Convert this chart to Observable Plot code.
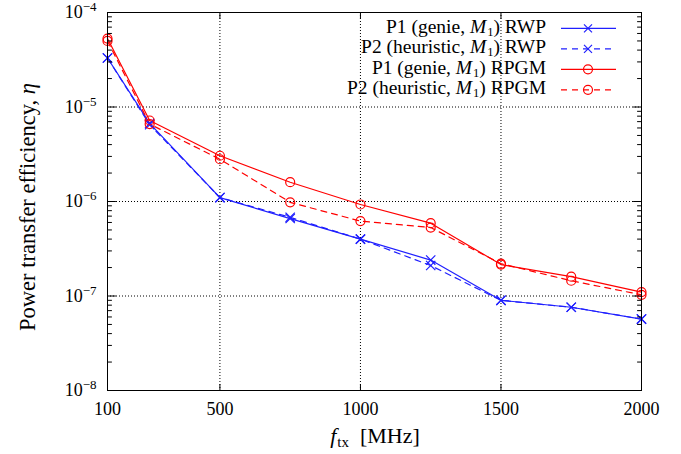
<!DOCTYPE html>
<html><head><meta charset="utf-8">
<script src="https://cdn.jsdelivr.net/npm/d3@7"></script>
<script src="https://cdn.jsdelivr.net/npm/@observablehq/plot@0.6"></script>
<style>body{margin:0;background:#fff} svg text{font-family:"Liberation Serif",serif}</style>
</head><body><div id="chart"></div>
<script>
const freqs = [100, 250, 500, 750, 1000, 1250, 1500, 1750, 2000];
const p1RWP  = [3.3e-5, 6.7e-6, 1.1e-6, 6.6e-7, 4.0e-7, 2.4e-7, 9.0e-8, 7.6e-8, 5.7e-8];
const p2RWP  = [3.3e-5, 6.5e-6, 1.1e-6, 6.8e-7, 4.0e-7, 2.1e-7, 9.0e-8, 7.6e-8, 5.7e-8];
const p1RPGM = [5.3e-5, 7.2e-6, 3.05e-6, 1.6e-6, 9.3e-7, 5.9e-7, 2.15e-7, 1.6e-7, 1.1e-7];
const p2RPGM = [5.0e-5, 6.6e-6, 2.8e-6, 9.8e-7, 6.2e-7, 5.3e-7, 2.2e-7, 1.45e-7, 1.03e-7];
const seriesNames = [
  ["P1 (genie, ", ") RWP"],
  ["P2 (heuristic, ", ") RWP"],
  ["P1 (genie, ", ") RPGM"],
  ["P2 (heuristic, ", ") RPGM"]
];
const xTicks = [100, 500, 1000, 1500, 2000];
const xGrid = [500, 1000, 1500];
const yDecades = [1e-8, 1e-7, 1e-6, 1e-5, 1e-4];
const yGrid = [1e-7, 1e-6, 1e-5];
const yExponents = ["−8", "−7", "−6", "−5", "−4"];

const BLUE = "#2020ff", RED = "#ff0000";
const FONT = "Liberation Serif, serif";
const series = [
  {values: p1RWP, color: BLUE, dash: null, symbol: "times"},
  {values: p2RWP, color: BLUE, dash: "6,5", symbol: "times"},
  {values: p1RPGM, color: RED, dash: null, symbol: "circle"},
  {values: p2RPGM, color: RED, dash: "6,5", symbol: "circle"}
].map((s, i) => ({...s, name: seriesNames[i]}));

const minorY = [];
for (const d of yDecades.slice(0, -1)) for (let m = 2; m <= 9; m++) minorY.push(d * m);

const tickShape = {draw(c, l) { c.moveTo(0, 0); c.lineTo(0, -l); }};
const tk = (data, opts) => Plot.vector(data, {anchor: "start", shape: tickShape, stroke: "#000", strokeWidth: 1, ...opts});

const lineMarks = [], dotMarks = [];
series.forEach(s => {
  const rows = freqs.map((f, i) => ({f, v: s.values[i]}));
  lineMarks.push(Plot.line(rows, {x: "f", y: "v", stroke: s.color, strokeWidth: 1.2, strokeDasharray: s.dash}));
  dotMarks.push(Plot.dot(rows, {x: "f", y: "v", stroke: s.color, strokeWidth: 1.2, symbol: s.symbol, r: s.symbol === "circle" ? 4.5 : 4.3, fill: "none"}));
});

const chart = Plot.plot({
  width: 681, height: 454,
  marginLeft: 107, marginRight: 40, marginTop: 12, marginBottom: 64,
  style: {fontFamily: FONT, fontSize: "18px", background: "#fff", color: "#000"},
  x: {domain: [100, 2000]},
  y: {type: "log", domain: [1e-8, 1e-4]},
  marks: [
    Plot.gridX(xGrid, {stroke: "#000", strokeOpacity: 1, strokeDasharray: "1,2", strokeWidth: 1}),
    Plot.gridY(yGrid, {stroke: "#000", strokeOpacity: 1, strokeDasharray: "1,2", strokeWidth: 1}),
    ...lineMarks, ...dotMarks,
    tk(xGrid, {x: d => d, frameAnchor: "bottom", rotate: 0, length: 6}),
    tk(xGrid, {x: d => d, frameAnchor: "top", rotate: 180, length: 6}),
    tk(yDecades, {y: d => d, frameAnchor: "left", rotate: 90, length: 8}),
    tk(yDecades, {y: d => d, frameAnchor: "right", rotate: -90, length: 8}),
    tk(minorY, {y: d => d, frameAnchor: "left", rotate: 90, length: 4}),
    tk(minorY, {y: d => d, frameAnchor: "right", rotate: -90, length: 4}),
    Plot.frame({stroke: "#000", strokeWidth: 1}),
    Plot.axisX(xTicks, {tickSize: 0, tickPadding: 12, label: null, tickFormat: d => String(d), fontSize: 18, fontFamily: FONT}),
    Plot.axisY(yDecades, {tickSize: 0, tickPadding: 11, label: null, tickFormat: d => "10" + yExponents[yDecades.indexOf(d)], fontSize: 18, fontFamily: FONT})
  ]
});
document.getElementById("chart").appendChild(chart);

const svg = d3.select(chart);
// superscript exponents on the y tick labels
svg.selectAll('g[aria-label="y-axis tick label"] text').each(function() {
  const t = d3.select(this);
  const txt = t.text();
  t.text(null);
  t.append("tspan").text(txt.slice(0, 2));
  t.append("tspan").attr("dy", "-7").attr("font-size", "13px").text(txt.slice(2));
});

// y label
const yl = svg.append("text").attr("transform", "translate(35,207) rotate(-90)")
  .attr("text-anchor", "middle").attr("font-family", FONT).attr("font-size", "22.5px").attr("fill", "#000");
yl.append("tspan").text("Power transfer efficiency, ");
yl.append("tspan").attr("font-style", "italic").text("η");
// x label
const xl = svg.append("text").attr("x", 375).attr("y", 443)
  .attr("text-anchor", "middle").attr("font-family", FONT).attr("font-size", "22px").attr("fill", "#000");
xl.append("tspan").attr("font-style", "italic").text("f");
xl.append("tspan").attr("dy", "4").attr("dx", "1").attr("font-size", "15px").text("tx");
xl.append("tspan").attr("dy", "-4").text("  [MHz]");

// legend
const lg = svg.append("g").attr("font-family", FONT).attr("font-size", "19.5px");
series.forEach((s, i) => {
  const cy = 28.3 + 20.5 * i;
  const t = lg.append("text").attr("x", 546).attr("y", cy + 4.5).attr("text-anchor", "end").attr("fill", "#000");
  t.append("tspan").text(s.name[0]);
  t.append("tspan").attr("font-style", "italic").text("M");
  t.append("tspan").attr("dy", "3").attr("dx", "1").attr("font-size", "12.5px").text("1");
  t.append("tspan").attr("dy", "-3").text(s.name[1]);
  lg.append("line").attr("x1", 561).attr("x2", 616).attr("y1", cy).attr("y2", cy)
    .attr("stroke", s.color).attr("stroke-width", 1.2).attr("stroke-dasharray", s.dash);
  if (s.symbol === "circle") {
    lg.append("circle").attr("cx", 588).attr("cy", cy).attr("r", 4.5).attr("fill", "none").attr("stroke", s.color).attr("stroke-width", 1.2);
  } else {
    lg.append("path").attr("d", `M${584},${cy-4}L${592},${cy+4}M${584},${cy+4}L${592},${cy-4}`).attr("stroke", s.color).attr("stroke-width", 1.2);
  }
});
</script></body></html>
